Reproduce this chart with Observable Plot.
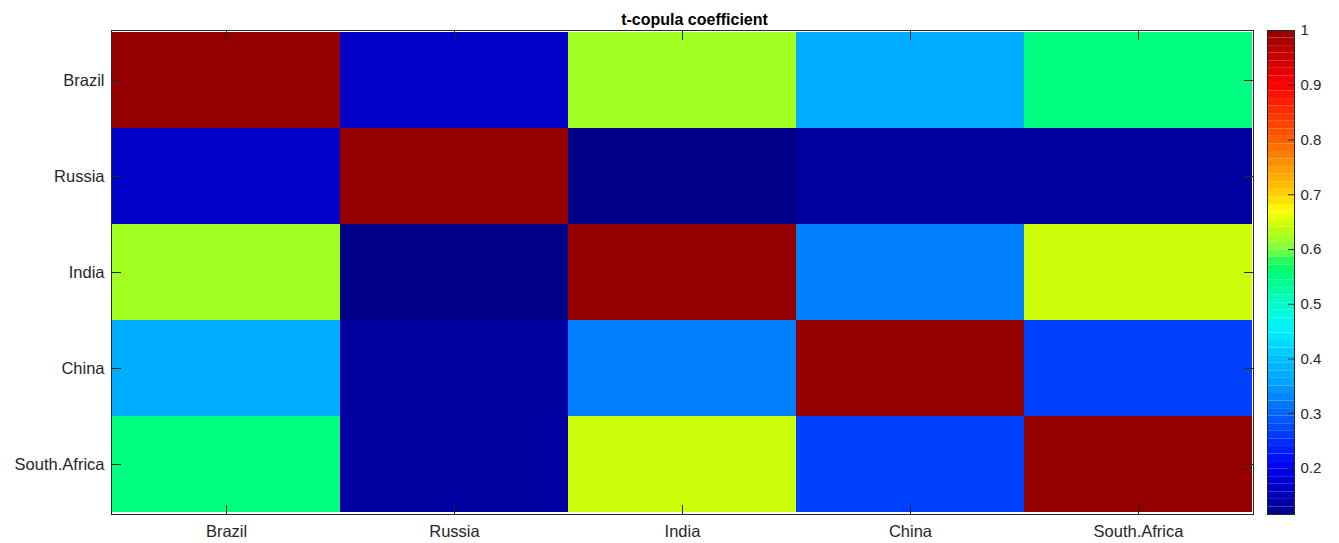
<!DOCTYPE html>
<html>
<head>
<meta charset="utf-8">
<script src="https://cdn.jsdelivr.net/npm/d3@7"></script>
<script src="https://cdn.jsdelivr.net/npm/@observablehq/plot@0.6"></script>
<style>
  html, body { margin: 0; padding: 0; background: #fff; }
  #chart { position: relative; width: 1339px; height: 543px; font-family: "Liberation Sans", Arial, sans-serif; }
  #chart svg { position: absolute; top: 0; }
</style>
</head>
<body>
<div id="chart"></div>
<script>
// ---- data ----
const title = "t-copula coefficient";
const countries = ["Brazil", "Russia", "India", "China", "South.Africa"];
const brazil      = [1.000, 0.165, 0.620, 0.375, 0.550];
const russia      = [0.165, 1.000, 0.116, 0.135, 0.135];
const india       = [0.620, 0.116, 1.000, 0.325, 0.645];
const china       = [0.375, 0.135, 0.325, 1.000, 0.265];
const southAfrica = [0.550, 0.135, 0.645, 0.265, 1.000];
const colorTicks = [0.2, 0.3, 0.4, 0.5, 0.6, 0.7, 0.8, 0.9, 1];

const rows = [brazil, russia, india, china, southAfrica];
const cells = [];
rows.forEach((r, i) => r.forEach((v, j) => cells.push({row: countries[i], col: countries[j], value: v})));

const vmin = d3.min(cells, d => d.value);
const vmax = d3.max(cells, d => d.value);

// jet-like colormap (style)
const stopV = [vmin, 0.15, 0.2, 0.25, 0.3, 0.35, 0.4, 0.45, 0.5, 0.57, 0.6, 0.63, 0.67, 0.7, 0.8, 0.9, 0.95, vmax];
const stopC = ["#000088", "#0000b4", "#0000f0", "#0030ff", "#0064ff", "#009cff", "#00c0ff", "#00f0ff", "#00ffc8", "#00ff64", "#80ff40", "#b0ff10", "#ffff00", "#ffd000", "#ff6000", "#ff0000", "#c80000", "#940000"];
const colorScale = {type: "linear", domain: stopV, range: stopC, interpolate: "rgb"};

const ink = "#262626";
const font = "Liberation Sans, Arial, sans-serif";

const main = Plot.plot({
  width: 1339, height: 543,
  marginLeft: 111, marginRight: 86, marginTop: 30, marginBottom: 29,
  style: {fontFamily: font, fontSize: "16.5px", color: ink, background: "transparent", overflow: "visible"},
  x: {type: "band", domain: countries, padding: 0, label: null},
  y: {type: "band", domain: countries, padding: 0, label: null},
  color: colorScale,
  marks: [
    Plot.cell(cells, {x: "col", y: "row", fill: "value", inset: 0}),
    Plot.frame({stroke: ink, strokeWidth: 1}),
    Plot.axisX({anchor: "bottom", tickSize: -9, tickPadding: 20, stroke: ink, fill: ink, fontSize: 16.5}),
    Plot.axisX({anchor: "top", tickSize: -9, tickFormat: () => "", stroke: ink}),
    Plot.axisY({anchor: "left", tickSize: -10, tickPadding: 17, stroke: ink, fill: ink, fontSize: 16.5}),
    Plot.axisY({anchor: "right", tickSize: -10, tickFormat: () => "", stroke: ink}),
    Plot.text([title], {frameAnchor: "top", dy: -17, dx: 12, text: d => d, fontWeight: "bold", fontSize: 16, fill: "#000"})
  ]
});
main.style.left = "0px";
document.getElementById("chart").appendChild(main);

// colorbar
const nSteps = 64;
const stepEdges = d3.range(nSteps + 1).map(i => vmin + (vmax - vmin) * i / nSteps);
const steps = d3.range(nSteps).map(i => ({lo: stepEdges[i], hi: stepEdges[i + 1], mid: (stepEdges[i] + stepEdges[i + 1]) / 2}));

const bar = Plot.plot({
  width: 72, height: 543,
  marginLeft: 0, marginRight: 45, marginTop: 30, marginBottom: 29,
  style: {fontFamily: font, fontSize: "15px", color: ink, background: "transparent", overflow: "visible"},
  x: {domain: [0, 1], axis: null},
  y: {domain: [vmin, vmax], axis: null},
  color: colorScale,
  marks: [
    Plot.rect(steps, {x1: 0, x2: 1, y1: "lo", y2: "hi", fill: "mid"}),
    Plot.ruleY(colorTicks, {x1: 0.78, x2: 1, stroke: ink}),
    Plot.frame({stroke: ink}),
    Plot.text(colorTicks, {x: 1, y: d => d, dx: 6, text: d => d3.format("")(d), textAnchor: "start", fill: ink, fontSize: 15})
  ]
});
bar.style.left = "1267px";
document.getElementById("chart").appendChild(bar);
</script>
</body>
</html>
